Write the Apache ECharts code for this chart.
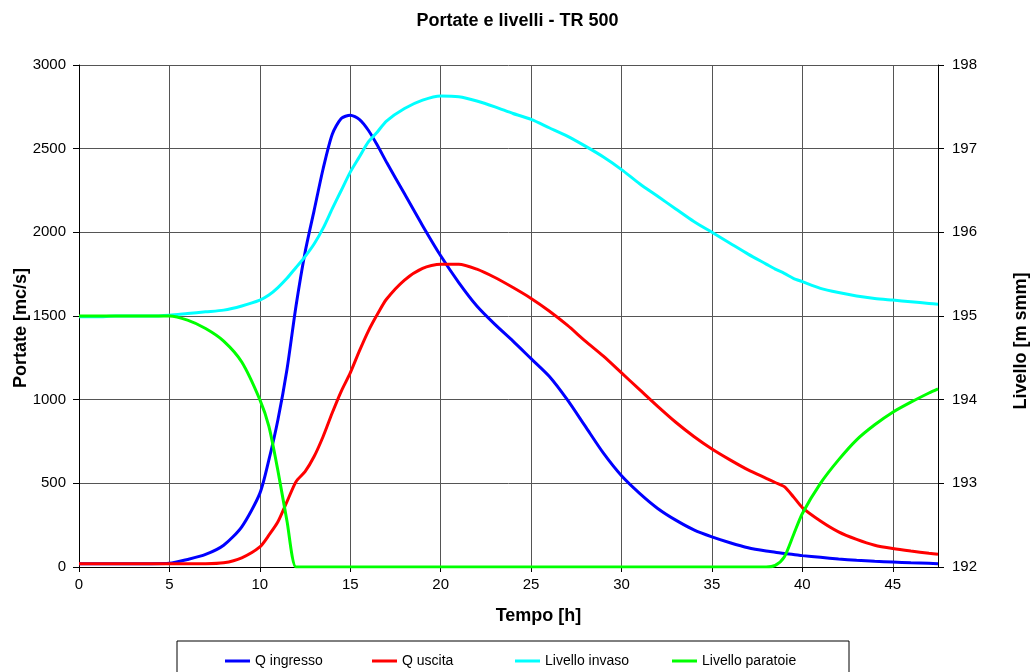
<!DOCTYPE html>
<html>
<head>
<meta charset="utf-8">
<script src="https://cdn.jsdelivr.net/npm/echarts@6/dist/echarts.min.js"></script>
<style>
    html, body {margin: 0; padding: 0; background: #fff;}
    #chart {width: 1035px; height: 672px;}
</style>
</head>
<body>
<div id="chart"></div>
<script>
// tempo [h]
var tempo = [0, 1, 2, 3, 4, 5, 6, 7, 8, 9, 10, 10.5, 11, 11.5, 12, 12.5, 13, 13.5, 14, 14.5, 15, 15.5, 16, 16.5, 17, 18, 19, 20,
    21, 22, 23, 24, 25, 26, 27, 28, 29, 30, 31, 32, 33, 34, 35, 36, 37, 38, 38.5, 39, 39.5, 40, 41, 42, 43, 44, 45, 46, 47, 47.5];
// portate [mc/s]
var qIngresso = [20, 20, 20, 20, 20, 22, 45, 75, 130, 240, 440, 640, 880, 1180, 1560, 1880, 2130, 2380, 2585, 2680, 2700, 2675, 2610, 2520, 2420, 2230, 2040, 1860,
    1700, 1560, 1450, 1350, 1245, 1140, 1000, 840, 680, 545, 440, 350, 280, 222, 180, 145, 115, 95, 88, 80, 75, 68, 58, 48, 40, 34, 30, 25, 22, 20];
var qUscita = [20, 20, 20, 20, 20, 20, 20, 20, 25, 55, 120, 190, 270, 390, 510, 570, 660, 780, 920, 1050, 1160, 1290, 1410, 1510, 1600, 1715, 1785, 1810,
    1810, 1780, 1730, 1670, 1605, 1530, 1445, 1350, 1260, 1160, 1060, 960, 865, 780, 705, 640, 580, 530, 505, 480, 420, 355, 275, 210, 165, 130, 110, 95, 82, 76];
// livelli [m smm]
var livelloInvaso = [194.99, 194.99, 195.0, 195.0, 195.0, 195.01, 195.03, 195.05, 195.07, 195.12, 195.19, 195.25, 195.34, 195.45, 195.58, 195.71, 195.86, 196.05, 196.28, 196.5, 196.72, 196.9, 197.08, 197.2, 197.33, 197.48, 197.58, 197.63,
    197.62, 197.57, 197.5, 197.42, 197.35, 197.25, 197.15, 197.03, 196.9, 196.75, 196.58, 196.43, 196.28, 196.13, 196.0, 195.87, 195.74, 195.62, 195.56, 195.51, 195.45, 195.41, 195.33, 195.28, 195.24, 195.21, 195.19, 195.17, 195.15, 195.14];
var livelloParatoie = [195.0, 195.0, 195.0, 195.0, 195.0, 195.0, 194.95, 194.85, 194.7, 194.45, 194.0, 193.68, 193.15, 192.55, 192.0, 192.0, 192.0, 192.0, 192.0, 192.0, 192.0, 192.0, 192.0, 192.0, 192.0, 192.0, 192.0, 192.0,
    192.0, 192.0, 192.0, 192.0, 192.0, 192.0, 192.0, 192.0, 192.0, 192.0, 192.0, 192.0, 192.0, 192.0, 192.0, 192.0, 192.0, 192.0, 192.02, 192.12, 192.38, 192.64, 193.0, 193.28, 193.52, 193.7, 193.85, 193.97, 194.08, 194.13];

var nomi = ['Q ingresso', 'Q uscita', 'Livello invaso', 'Livello paratoie'];
var colori = ['#0000ff', '#ff0000', '#00ffff', '#00ff00'];
var legendaX = [225, 372, 515, 672];

function coppie(arr) {
    return tempo.map(function (t, i) { return [t, arr[i]]; });
}

var dom = document.getElementById('chart');
var myChart = echarts.init(dom);
var font = 'Liberation Sans, Arial, sans-serif';

function serie(i, arr, yIdx) {
    return {
        name: nomi[i],
        type: 'line',
        yAxisIndex: yIdx,
        symbol: 'none',
        smooth: 0.25,
        lineStyle: {color: colori[i], width: 3},
        itemStyle: {color: colori[i]},
        data: coppie(arr)
    };
}

var option = {
    animation: false,
    title: {
        text: 'Portate e livelli - TR 500',
        left: 'center',
        top: 7,
        textStyle: {fontFamily: font, fontSize: 18, fontWeight: 'bold', color: '#000'}
    },
    legend: nomi.map(function (n, i) {
        return {
            data: [n],
            left: legendaX[i],
            top: 654,
            padding: 0,
            icon: 'rect',
            itemWidth: 25,
            itemHeight: 3,
            textStyle: {fontFamily: font, fontSize: 14, color: '#000'}
        };
    }),
    graphic: [{
        type: 'rect',
        shape: {x: 177, y: 641, width: 672, height: 40},
        style: {fill: 'none', stroke: '#000', lineWidth: 1}
    }],
    grid: {left: 79, right: 97, top: 65, bottom: 105, outerBoundsMode: 'none'},
    xAxis: {
        type: 'value',
        min: 0,
        max: 47.5,
        interval: 5,
        name: 'Tempo [h]',
        nameLocation: 'middle',
        nameGap: 40,
        nameTextStyle: {fontFamily: font, fontSize: 18, fontWeight: 'bold', color: '#000', padding: [0, 0, 0, 60]},
        axisLine: {lineStyle: {color: '#000'}},
        axisTick: {show: true, length: 5, lineStyle: {color: '#000'}},
        axisLabel: {fontFamily: font, fontSize: 15, color: '#000', margin: 10, showMaxLabel: false},
        splitLine: {show: true, lineStyle: {color: '#555', width: 1}}
    },
    yAxis: [{
        type: 'value',
        min: 0,
        max: 3000,
        interval: 500,
        name: 'Portate [mc/s]',
        nameLocation: 'middle',
        nameGap: 49,
        nameMoveOverlap: false,
        nameTextStyle: {fontFamily: font, fontSize: 18, fontWeight: 'bold', color: '#000', padding: [0, 24, 0, 0]},
        axisLine: {show: true, lineStyle: {color: '#000'}},
        axisTick: {show: true, length: 6, lineStyle: {color: '#000'}},
        axisLabel: {fontFamily: font, fontSize: 15, color: '#000', margin: 13, formatter: function (v) { return String(v); }},
        splitLine: {show: true, lineStyle: {color: '#555', width: 1}}
    }, {
        type: 'value',
        min: 192,
        max: 198,
        interval: 1,
        position: 'right',
        name: 'Livello [m smm]',
        nameLocation: 'middle',
        nameGap: 74,
        nameRotate: 90,
        nameMoveOverlap: false,
        nameTextStyle: {fontFamily: font, fontSize: 18, fontWeight: 'bold', color: '#000', padding: [0, 50, 0, 0]},
        axisLine: {show: true, lineStyle: {color: '#000'}},
        axisTick: {show: true, length: 6, lineStyle: {color: '#000'}},
        axisLabel: {fontFamily: font, fontSize: 15, color: '#000', margin: 14},
        splitLine: {show: false}
    }],
    series: [
        serie(0, qIngresso, 0),
        serie(1, qUscita, 0),
        serie(2, livelloInvaso, 1),
        serie(3, livelloParatoie, 1)
    ]
};
myChart.setOption(option, true);
</script>
</body>
</html>
